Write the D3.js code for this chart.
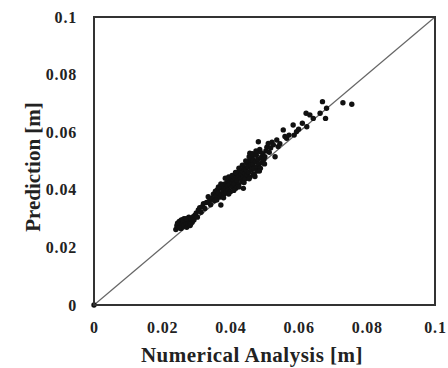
<!DOCTYPE html>
<html>
<head>
<meta charset="utf-8">
<script src="https://cdn.jsdelivr.net/npm/d3@7"></script>
<style>
  body { margin: 0; background: #fff; }
  text { font-family: "Liberation Serif", "Times New Roman", serif; font-weight: bold; fill: #222; }
</style>
</head>
<body>
<div id="chart"></div>
<script>
const width = 448,
  height = 368;

// numerical analysis vs prediction [m]
const numerical = [
  0.0240, 0.0243, 0.0245, 0.0248, 0.0250, 0.0252, 0.0255, 0.0256, 0.0258, 0.0260,
  0.0262, 0.0264, 0.0266, 0.0268, 0.0270, 0.0272, 0.0274, 0.0276, 0.0278, 0.0280,
  0.0282, 0.0285, 0.0288, 0.0291, 0.0293, 0.0296, 0.0300, 0.0303, 0.0306, 0.0310,
  0.0314, 0.0318, 0.0321, 0.0325, 0.0330, 0.0335, 0.0338, 0.0342, 0.0346, 0.0350,
  0.0353, 0.0356, 0.0358, 0.0360, 0.0362, 0.0365, 0.0368, 0.0370, 0.0372, 0.0374,
  0.0376, 0.0378, 0.0380, 0.0382, 0.0384, 0.0386, 0.0388, 0.0390, 0.0392, 0.0394,
  0.0396, 0.0398, 0.0400, 0.0402, 0.0404, 0.0406, 0.0408, 0.0410, 0.0412, 0.0414,
  0.0416, 0.0418, 0.0420, 0.0422, 0.0424, 0.0426, 0.0428, 0.0430, 0.0432, 0.0434,
  0.0436, 0.0438, 0.0438, 0.0440, 0.0442, 0.0444, 0.0446, 0.0448, 0.0450, 0.0452,
  0.0454, 0.0456, 0.0457, 0.0458, 0.0460, 0.0462, 0.0464, 0.0466, 0.0467, 0.0468,
  0.0470, 0.0472, 0.0474, 0.0476, 0.0477, 0.0478, 0.0480, 0.0482, 0.0484, 0.0486,
  0.0487, 0.0488, 0.0490, 0.0492, 0.0495, 0.0498, 0.0501, 0.0504, 0.0507, 0.0511,
  0.0514, 0.0518, 0.0522, 0.0526, 0.0531, 0.0536, 0.0540, 0.0545, 0.0555, 0.0560,
  0.0565, 0.0572, 0.0584, 0.0587, 0.0594, 0.0600, 0.0611, 0.0622, 0.0624, 0.0633,
  0.0643, 0.0663, 0.0670, 0.0679, 0.0682, 0.0730, 0.0756, 0,
  0.0365, 0.0372, 0.0385, 0.0395, 0.0405, 0.0415, 0.0425, 0.0435, 0.0445, 0.0455,
  0.0465, 0.0475, 0.0380, 0.0395, 0.0410, 0.0425, 0.0440, 0.0455, 0.0470, 0.0485,
  0.0500, 0.0260, 0.0250, 0.0270, 0.0284
];
const prediction = [
  0.0262, 0.0275, 0.0284, 0.0270, 0.0290, 0.0278, 0.0266, 0.0295, 0.0283, 0.0272,
  0.0288, 0.0300, 0.0278, 0.0291, 0.0285, 0.0270, 0.0296, 0.0282, 0.0305, 0.0290,
  0.0276, 0.0298, 0.0287, 0.0307, 0.0295, 0.0312, 0.0320, 0.0305, 0.0330, 0.0338,
  0.0322, 0.0342, 0.0352, 0.0335, 0.0356, 0.0376, 0.0360, 0.0348, 0.0370, 0.0385,
  0.0362, 0.0395, 0.0378, 0.0365, 0.0400, 0.0388, 0.0405, 0.0375, 0.0347, 0.0382,
  0.0412, 0.0395, 0.0410, 0.0385, 0.0420, 0.0402, 0.0392, 0.0425, 0.0413, 0.0400,
  0.0430, 0.0418, 0.0393, 0.0438, 0.0425, 0.0410, 0.0434, 0.0445, 0.0420, 0.0440,
  0.0405, 0.0457, 0.0432, 0.0448, 0.0418, 0.0462, 0.0469, 0.0440, 0.0455, 0.0428,
  0.0465, 0.0446, 0.0405, 0.0478, 0.0458, 0.0438, 0.0470, 0.0492, 0.0452, 0.0480,
  0.0462, 0.0500, 0.0527, 0.0445, 0.0485, 0.0470, 0.0510, 0.0490, 0.0503, 0.0455,
  0.0475, 0.0446, 0.0498, 0.0520, 0.0480, 0.0465, 0.0505, 0.0567, 0.0490, 0.0540,
  0.0532, 0.0475, 0.0512, 0.0495, 0.0525, 0.0505, 0.0515, 0.0535, 0.0548, 0.0561,
  0.0530, 0.0545, 0.0565, 0.0556, 0.0515, 0.0573, 0.0550, 0.0560, 0.0608, 0.0585,
  0.0579, 0.0590, 0.0625, 0.0590, 0.0602, 0.0610, 0.0631, 0.0666, 0.0619, 0.0660,
  0.0648, 0.0666, 0.0706, 0.0648, 0.0683, 0.0702, 0.0697, 0,
  0.0410, 0.0420, 0.0440, 0.0445, 0.0450, 0.0460, 0.0475, 0.0485, 0.0500, 0.0515,
  0.0525, 0.0535, 0.0372, 0.0385, 0.0398, 0.0410, 0.0425, 0.0438, 0.0452, 0.0465,
  0.0490, 0.0295, 0.0268, 0.0300, 0.0282
];
const tickValues = [0, 0.02, 0.04, 0.06, 0.08, 0.1];
const tickLabels = ["0", "0.02", "0.04", "0.06", "0.08", "0.1"];

const margin = { top: 17, right: 13, bottom: 63, left: 94 };

const x = d3.scaleLinear().domain([0, 0.1]).range([margin.left, width - margin.right]);
const y = d3.scaleLinear().domain([0, 0.1]).range([height - margin.bottom, margin.top]);

const svg = d3
  .select("#chart")
  .append("svg")
  .attr("width", width)
  .attr("height", height);

// x axis labels
svg
  .append("g")
  .attr("transform", `translate(0,${y(0) + 23})`)
  .call(d3.axisBottom(x).tickValues(tickValues).tickFormat((d, i) => tickLabels[i]).tickSize(0))
  .call((g) => g.select(".domain").remove())
  .call((g) => g.selectAll("text").attr("font-size", 16).attr("font-family", null).attr("fill", null).attr("dy", "0.1em").attr("letter-spacing", 0.8));

// y axis labels
svg
  .append("g")
  .attr("transform", `translate(${x(0) - 14},0)`)
  .call(d3.axisLeft(y).tickValues(tickValues).tickFormat((d, i) => tickLabels[i]).tickSize(0))
  .call((g) => g.select(".domain").remove())
  .call((g) => g.selectAll("text").attr("font-size", 16).attr("font-family", null).attr("fill", null).attr("letter-spacing", 0.8));

// 1:1 line
svg
  .append("line")
  .attr("x1", x(0))
  .attr("y1", y(0))
  .attr("x2", x(0.1))
  .attr("y2", y(0.1))
  .attr("stroke", "#666")
  .attr("stroke-width", 1.2);

// points
svg
  .append("g")
  .selectAll("circle")
  .data(numerical.map((d, i) => [d, prediction[i]]))
  .join("circle")
  .attr("cx", (d) => x(d[0]))
  .attr("cy", (d) => y(d[1]))
  .attr("r", 2.7)
  .attr("fill", "#111");

// frame
svg
  .append("rect")
  .attr("x", x(0))
  .attr("y", y(0.1))
  .attr("width", x(0.1) - x(0))
  .attr("height", y(0) - y(0.1))
  .attr("fill", "none")
  .attr("stroke", "#333")
  .attr("stroke-width", 2);

// axis titles
svg
  .append("text")
  .attr("x", 252)
  .attr("y", 362)
  .attr("text-anchor", "middle")
  .attr("font-size", 21)
  .attr("letter-spacing", 0.5)
  .text("Numerical Analysis [m]");

svg
  .append("text")
  .attr("transform", `translate(40,167) rotate(-90)`)
  .attr("text-anchor", "middle")
  .attr("font-size", 21)
  .text("Prediction [m]");
</script>
</body>
</html>
